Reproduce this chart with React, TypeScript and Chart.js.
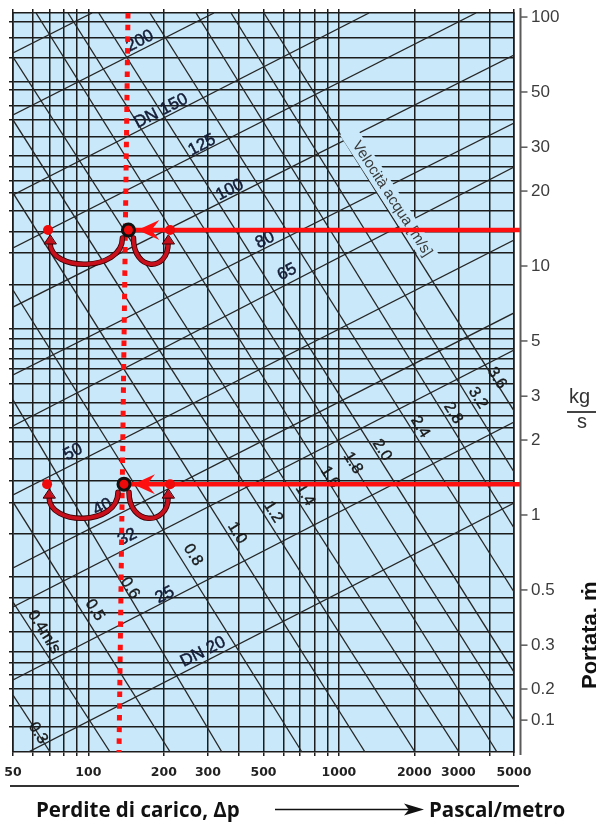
import { useEffect, useRef } from 'react';
import { Chart, registerables } from 'chart.js';

Chart.register(...registerables);

// Pressure drop (Pa/m) runs horizontally, mass flow (kg/s) vertically, both logarithmic.
const DP_MIN = 50;
const DP_MAX = 5000;
const FLOW_MIN = 0.1117;
const FLOW_MAX = 103.8;

const dpGrid = [50, 60, 70, 80, 90, 100, 200, 300, 400, 500, 600, 700, 800, 900, 1000, 2000, 3000, 4000, 5000];
const dpTickValues = [50, 100, 200, 300, 500, 1000, 2000, 3000, 5000];
const dpTickLabels = ['50', '100', '200', '300', '500', '1000', '2000', '3000', '5000'];

const flowGrid = [
  95.5, 82.4, 68.4, 54.8, 50.9, 43.9, 38.6, 33.0, 27.7, 25.0, 22.1, 19.6, 16.6, 13.7, 11.3, 8.39,
  5.58, 5.09, 4.64, 4.23, 3.86, 3.36, 2.82, 2.5, 2.24, 1.96, 1.68, 1.37, 1.12, 0.839, 0.564, 0.464,
  0.404, 0.339, 0.282, 0.254, 0.228, 0.2, 0.171, 0.141,
];
const flowTickValues = [100, 50, 30, 20, 10, 5, 3, 2, 1, 0.5, 0.3, 0.2, 0.15];
const flowTickLabels = ['100', '50', '30', '20', '10', '5', '3', '2', '1', '0.5', '0.3', '0.2', '0.1'];

// Constant pipe-diameter lines: [Δp, flow] where each one enters and leaves the grid
const dnLineStart = [
  [50, 71.7], [50, 40.4], [50, 19.28], [50, 11.81], [50, 6.84], [50, 3.65],
  [50, 2.28], [50, 1.203], [50, 0.613], [50, 0.427], [50, 0.2175], [50, 0.1038],
];
const dnLineEnd = [
  [103.4, FLOW_MAX], [317, FLOW_MAX], [1319, FLOW_MAX], [3526, FLOW_MAX], [5000, 70.4], [5000, 37.5],
  [5000, 24.98], [5000, 12.72], [5000, 6.48], [5000, 4.6], [5000, 2.363], [5000, 1.117],
];
const dnLabels = ['200', 'DN 150', '125', '100', '80', '65', '50', '40', '32', '25', 'DN 20'];
const dnLabelDp = [160.7, 195, 284, 367, 507, 621, 86.8, 114, 143, 202, 287];
const dnLabelFlow = [80.1, 41.9, 30.6, 20.2, 12.72, 9.46, 1.79, 1.077, 0.816, 0.477, 0.282];

// Constant water-velocity lines
const velLineStart = [
  [50, 0.189], [50, 0.447], [50, 1.128], [50, 2.9], [50, 8.01], [50, 19.65], [50, 38.6], [50, 69.1],
  [61.8, FLOW_MAX], [82.9, FLOW_MAX], [110, FLOW_MAX], [176, FLOW_MAX], [269, FLOW_MAX], [371, FLOW_MAX], [502, FLOW_MAX],
];
const velLineEnd = [
  [70.3, FLOW_MIN], [122, FLOW_MIN], [212, FLOW_MIN], [341, FLOW_MIN], [712, FLOW_MIN], [1271, FLOW_MIN],
  [2013, FLOW_MIN], [3015, FLOW_MIN], [4276, FLOW_MIN], [5000, 0.15], [5000, 0.234], [5000, 0.491],
  [5000, 0.887], [5000, 1.488], [5000, 2.62],
];
const velLabels = ['0.3', '0.4m/s', '0.5', '0.6', '0.8', '1.0', '1.2', '1.4', '1.6', '1.8', '2.0', '2.4', '2.8', '3.2', '3.6'];
const velLabelDp = [62.9, 66.5, 106, 146.5, 261.5, 392, 546, 732, 921, 1138, 1486, 2108, 2855, 3590, 4276];
const velLabelFlow = [0.133, 0.339, 0.415, 0.509, 0.691, 0.847, 1.028, 1.203, 1.42, 1.618, 1.824, 2.257, 2.568, 2.951, 3.55];

const velCaption = 'Velocità acqua [m/s]';
const velCaptionDp = 1630;
const velCaptionFlow = 18.6;

// Two worked readings: flow in from the right, read Δp on the dotted guide
const exampleFlow = [13.95, 1.33];
const exampleDp = [144.5, 138.7];
const exampleDpLow = [69, 68.4];
const exampleDpHigh = [212, 212];
const guideDpTop = 143.9;
const guideDpBottom = 132.5;
const leadInFromDp = 5280;

const PLOT_BG = '#c9e9fa';
const GRID = '#1c1c1c';
const RED = '#ff1010';
const DARK_RED = '#c8101c';

const DN_ANGLE = (-27 * Math.PI) / 180;
const VEL_ANGLE = (58 * Math.PI) / 180;

type Pt = { x: number; y: number };

function px(chart: any, dp: number, flow: number): Pt {
  return { x: chart.scales.x.getPixelForValue(dp), y: chart.scales.y.getPixelForValue(flow) };
}

function rotatedText(ctx: CanvasRenderingContext2D, text: string, p: Pt, angle: number, font: string, color: string, heavy = 0) {
  ctx.save();
  ctx.translate(p.x, p.y);
  ctx.rotate(angle);
  ctx.font = font;
  ctx.fillStyle = color;
  ctx.textAlign = 'center';
  ctx.textBaseline = 'middle';
  ctx.fillText(text, 0, 0);
  if (heavy > 0) {
    ctx.strokeStyle = color;
    ctx.lineWidth = heavy;
    ctx.strokeText(text, 0, 0);
  }
  ctx.restore();
}

function drawLabels(chart: any) {
  const ctx: CanvasRenderingContext2D = chart.ctx;
  const a = chart.chartArea;
  ctx.save();
  ctx.beginPath();
  ctx.rect(a.left, a.top, a.right - a.left, a.bottom - a.top);
  ctx.clip();

  // velocity caption sits on its own band of background
  const c = px(chart, velCaptionDp, velCaptionFlow);
  ctx.save();
  ctx.translate(c.x, c.y);
  ctx.rotate((57 * Math.PI) / 180);
  ctx.fillStyle = PLOT_BG;
  ctx.fillRect(-82, -9, 164, 18);
  ctx.restore();
  rotatedText(ctx, velCaption, c, (57 * Math.PI) / 180, '15px "Liberation Sans", Arial, sans-serif', '#3a3a3a');

  dnLabels.forEach((t, i) => {
    rotatedText(ctx, t, px(chart, dnLabelDp[i], dnLabelFlow[i]), DN_ANGLE, '17px "Liberation Sans", Arial, sans-serif', '#141c36', 0.5);
  });
  velLabels.forEach((t, i) => {
    rotatedText(ctx, t, px(chart, velLabelDp[i], velLabelFlow[i]), VEL_ANGLE, '16px "Liberation Sans", Arial, sans-serif', '#181818', 0.4);
  });
  ctx.restore();
}

function uArrow(ctx: CanvasRenderingContext2D, sx: number, sy: number, ex: number, ey: number, depth: number) {
  ctx.save();
  ctx.lineCap = 'round';
  ctx.beginPath();
  ctx.moveTo(sx, sy);
  ctx.bezierCurveTo(sx, sy + depth, ex, ey + depth - 5, ex, ey);
  ctx.strokeStyle = '#3a0005';
  ctx.lineWidth = 5.5;
  ctx.stroke();
  ctx.strokeStyle = DARK_RED;
  ctx.lineWidth = 3.8;
  ctx.stroke();
  ctx.beginPath();
  ctx.moveTo(ex, ey - 8);
  ctx.lineTo(ex - 6, ey + 1);
  ctx.lineTo(ex + 6, ey + 1);
  ctx.closePath();
  ctx.fillStyle = DARK_RED;
  ctx.fill();
  ctx.strokeStyle = '#3a0005';
  ctx.lineWidth = 1;
  ctx.stroke();
  ctx.restore();
}

function drawReadingArrows(chart: any) {
  const ctx: CanvasRenderingContext2D = chart.ctx;
  exampleFlow.forEach((f, i) => {
    const c = px(chart, exampleDp[i], f);
    const l = px(chart, exampleDpLow[i], f);
    const r = px(chart, exampleDpHigh[i], f);
    const tx = c.x + 9;
    ctx.save();
    ctx.fillStyle = RED;
    ctx.beginPath();
    ctx.moveTo(tx, c.y);
    ctx.lineTo(tx + 22, c.y - 10);
    ctx.lineTo(tx + 14, c.y);
    ctx.lineTo(tx + 22, c.y + 10);
    ctx.closePath();
    ctx.fill();
    ctx.restore();
    uArrow(ctx, c.x - 6, c.y + 8, l.x + 2, c.y + 13, 34);
    uArrow(ctx, c.x + 5, c.y + 8, r.x - 2, c.y + 13, 34);
  });
}

const nomogramPlugin = {
  id: 'nomogram',
  beforeDraw(chart: any) {
    const { ctx, chartArea: a } = chart;
    ctx.save();
    ctx.fillStyle = PLOT_BG;
    ctx.fillRect(a.left, a.top, a.right - a.left, a.bottom - a.top);
    ctx.restore();
  },
  beforeDatasetDraw(chart: any, args: any) {
    const role = chart.data.datasets[args.index].role;
    if (role === 'guide') drawLabels(chart);
    if (role === 'sideDots') drawReadingArrows(chart);
  },
  afterDraw(chart: any) {
    const { ctx, chartArea: a } = chart;
    const yr = chart.scales.yRight;
    const ax = a.right + 6.5;
    ctx.save();
    ctx.strokeStyle = '#5a5a5a';
    ctx.lineWidth = 2;
    ctx.beginPath();
    ctx.moveTo(ax, a.top - 5);
    ctx.lineTo(ax, a.bottom + 3);
    ctx.stroke();
    ctx.lineWidth = 1.5;
    flowTickValues.forEach((v) => {
      const y = yr.getPixelForValue(v);
      ctx.beginPath();
      ctx.moveTo(ax, y);
      ctx.lineTo(ax + 7, y);
      ctx.stroke();
    });
    ctx.restore();
  },
};

function segment(from: number[], to: number[], extra: any = {}) {
  return {
    type: 'line',
    data: [{ x: from[0], y: from[1] }, { x: to[0], y: to[1] }],
    borderColor: '#262626',
    borderWidth: 1.3,
    pointRadius: 0,
    pointHitRadius: 0,
    fill: false,
    tension: 0,
    order: 10,
    ...extra,
  };
}

// fixed axis bands so the plot area lands where the grid belongs
function fixSize(key: 'width' | 'height', size: number) {
  return (s: any) => {
    s[key] = size;
    s.paddingLeft = 0;
    s.paddingRight = 0;
    s.paddingTop = 0;
    s.paddingBottom = 0;
  };
}

export default function App() {
  const ref = useRef<HTMLCanvasElement>(null);

  useEffect(() => {
    const datasets: any[] = [
      ...dnLineStart.map((s, i) => segment(s, dnLineEnd[i])),
      ...velLineStart.map((s, i) => segment(s, velLineEnd[i])),
      segment([guideDpTop, FLOW_MAX], [guideDpBottom, FLOW_MIN], {
        role: 'guide',
        borderColor: RED,
        borderWidth: 5,
        borderDash: [5.5, 6.2],
        borderCapStyle: 'butt',
        order: 6,
        clip: { left: 5, top: 5, right: 5, bottom: 5 },
      }),
      ...exampleFlow.map((f, i) =>
        segment([exampleDp[i], f], [leadInFromDp, f], {
          role: 'leadIn',
          borderColor: RED,
          borderWidth: 4.5,
          order: 5,
          clip: { left: 5, top: 5, right: 10, bottom: 5 },
        })
      ),
      {
        type: 'line',
        role: 'sideDots',
        data: exampleFlow.flatMap((f, i) => [
          { x: exampleDpLow[i], y: f },
          { x: exampleDpHigh[i], y: f },
        ]),
        showLine: false,
        pointRadius: 5,
        pointBackgroundColor: '#ee0a0a',
        pointBorderWidth: 0,
        order: 4,
      },
      {
        type: 'line',
        role: 'readings',
        data: exampleFlow.map((f, i) => ({ x: exampleDp[i], y: f })),
        showLine: false,
        pointRadius: 6,
        pointBackgroundColor: '#ee0a0a',
        pointBorderColor: '#111',
        pointBorderWidth: 3,
        order: 3,
      },
    ];

    const gridTicksDp = (s: any) => {
      s.ticks = dpGrid.map((v) => ({ value: v }));
    };
    const gridTicksFlow = (s: any) => {
      s.ticks = flowGrid.map((v) => ({ value: v }));
    };

    const chart = new Chart(ref.current as HTMLCanvasElement, {
      type: 'line',
      data: { datasets },
      plugins: [nomogramPlugin],
      options: {
        responsive: false,
        devicePixelRatio: 1,
        animation: false,
        events: [],
        layout: { padding: 0 },
        plugins: { legend: { display: false }, tooltip: { enabled: false } },
        scales: {
          x: {
            type: 'logarithmic',
            position: 'bottom',
            min: DP_MIN,
            max: DP_MAX,
            afterBuildTicks: gridTicksDp,
            afterFit: fixSize('height', 70),
            grid: { color: GRID, lineWidth: 1.5, drawTicks: true, tickLength: 4, tickColor: GRID },
            border: { display: true, color: GRID, width: 1.6 },
            ticks: {
              autoSkip: false,
              maxRotation: 0,
              padding: 9,
              color: '#222',
              font: { family: '"DejaVu Sans", sans-serif', size: 12.5, weight: 'bold' },
              callback: (v: any) => {
                const i = dpTickValues.indexOf(Number(v));
                return i >= 0 ? dpTickLabels[i] : '';
              },
            },
          },
          xTop: {
            type: 'logarithmic',
            position: 'top',
            min: DP_MIN,
            max: DP_MAX,
            afterBuildTicks: gridTicksDp,
            afterFit: fixSize('height', 13),
            grid: { drawOnChartArea: false, drawTicks: true, tickLength: 4, tickColor: GRID, lineWidth: 1.5 },
            border: { display: true, color: GRID, width: 1.6 },
            ticks: { display: false },
          },
          y: {
            type: 'logarithmic',
            position: 'left',
            min: FLOW_MIN,
            max: FLOW_MAX,
            afterBuildTicks: gridTicksFlow,
            afterFit: fixSize('width', 13),
            grid: { color: GRID, lineWidth: 1.5, drawTicks: true, tickLength: 4, tickColor: GRID },
            border: { display: true, color: GRID, width: 1.6 },
            ticks: { display: false },
          },
          yRight: {
            type: 'logarithmic',
            position: 'right',
            min: FLOW_MIN,
            max: FLOW_MAX,
            afterBuildTicks: (s: any) => {
              s.ticks = flowTickValues.map((v) => ({ value: v }));
            },
            afterFit: fixSize('width', 82),
            grid: { drawOnChartArea: false, drawTicks: false },
            border: { display: true, color: GRID, width: 1.6 },
            ticks: {
              autoSkip: false,
              padding: 17,
              color: '#3c3c3c',
              font: { family: '"Liberation Sans", Arial, sans-serif', size: 17 },
              callback: (_v: any, i: number) => flowTickLabels[i],
            },
          },
        },
      } as any,
    });
    return () => chart.destroy();
  }, []);

  const sans = '"Liberation Sans", Arial, sans-serif';
  const title = '"Open Sans", "Liberation Sans", sans-serif';

  return (
    <div style={{ position: 'absolute', left: 0, top: 0, width: 596, height: 822, overflow: 'hidden', background: '#fff' }}>
      <canvas ref={ref} width={596} height={822} style={{ position: 'absolute', left: 0, top: 0, width: 596, height: 822 }} />

      <div style={{ position: 'absolute', left: 569, top: 386, font: `20px ${sans}`, lineHeight: '20px', color: '#333', whiteSpace: 'nowrap' }}>kg</div>
      <div style={{ position: 'absolute', left: 567, top: 411, width: 40, height: 1.5, background: '#444' }} />
      <div style={{ position: 'absolute', left: 577, top: 410.5, font: `20px ${sans}`, lineHeight: '20px', color: '#333' }}>s</div>

      <div
        style={{
          position: 'absolute',
          left: 578.5,
          top: 689,
          transform: 'rotate(-90deg)',
          transformOrigin: '0 0',
          font: `bold 22px ${sans}`,
          lineHeight: '22px',
          color: '#111',
          whiteSpace: 'nowrap',
        }}
      >
        Portata, ṁ
      </div>

      <div style={{ position: 'absolute', left: 10, top: 785, width: 509, height: 1.5, background: '#333' }} />
      <div style={{ position: 'absolute', left: 36, top: 797, font: `700 20.5px ${title}`, lineHeight: '24px', color: '#111', whiteSpace: 'nowrap' }}>
        Perdite di carico, Δp
      </div>
      <svg style={{ position: 'absolute', left: 270, top: 800 }} width={160} height={20}>
        <line x1={5} y1={9.5} x2={145} y2={9.5} stroke="#111" strokeWidth={1.5} />
        <path d="M154,9.5 L134,3.5 L139,9.5 L134,15.5 Z" fill="#111" />
      </svg>
      <div style={{ position: 'absolute', left: 429, top: 797, font: `700 20.5px ${title}`, lineHeight: '24px', color: '#111', whiteSpace: 'nowrap' }}>
        Pascal/metro
      </div>
    </div>
  );
}
